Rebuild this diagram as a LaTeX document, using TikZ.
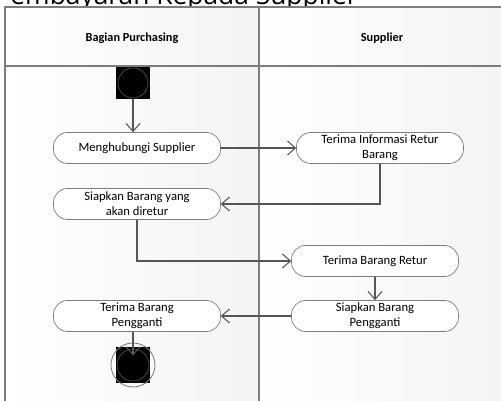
\documentclass[tikz,border=0pt]{standalone}
\usepackage{fontspec}
\setmainfont{Carlito}
\newfontfamily\titlefont{Open Sans}
\usepackage{tikz}
\usetikzlibrary{arrows.meta, positioning, calc}
\definecolor{lanegray}{RGB}{125,125,125}
\definecolor{flowgray}{RGB}{85,85,85}

\begin{document}
\begin{tikzpicture}[x=0.02cm,y=-0.02cm,
    aktivitas/.style={rectangle,rounded corners=8pt,draw=lanegray,fill=white,minimum width=3.34cm,minimum height=0.62cm,align=center,inner sep=1pt,font=\fontsize{7.2}{8.6}\selectfont},
    alur/.style={draw=flowgray,line width=0.6pt,-{Straight Barb[length=4.5pt,width=8pt]}},
    judullajur/.style={font=\bfseries\fontsize{7}{8}\selectfont}]
    \useasboundingbox (0,0) rectangle (501,401);
    \clip (0,0) rectangle (501,401);

    % Judul (terpotong di atas)
    \node[font=\titlefont\fontsize{15}{18}\selectfont,anchor=base east,inner sep=0pt] (judul) at (358,4.5) {Pembayaran Kepada Supplier};

    % Swimlane
    \shade[left color=white,right color=gray!9] (5,7) rectangle (259,410);
    \shade[left color=white,right color=gray!9] (259,7) rectangle (510,410);
    \draw[lanegray,line width=0.6pt] (5,7) rectangle (510,410);
    \draw[lanegray,line width=0.8pt] (5,66) -- (510,66);
    \draw[lanegray,line width=0.6pt] (259,7) -- (259,410);
    \node[judullajur] (lajurpurch) at (132,38) {Bagian Purchasing};
    \node[judullajur] (lajursupp) at (382,38) {Supplier};

    % Awal
    \node[rectangle,fill=black,minimum width=0.7cm,minimum height=0.64cm,inner sep=0pt] (mulai) at (133,83) {};
    \draw[gray!60!black,line width=0.4pt] (mulai) circle (15);

    % Aktivitas
    \node[aktivitas] (mhs) at (137,148) {Menghubungi Supplier};
    \node[aktivitas] (tia) at (380,148) {Terima Informasi Retur\\Barang};
    \node[aktivitas] (sbr) at (137,204) {Siapkan Barang yang\\akan diretur};
    \node[aktivitas] (tbr) at (375,261) {Terima Barang Retur};
    \node[aktivitas] (sbp) at (375,316) {Siapkan Barang\\Pengganti};
    \node[aktivitas] (tbp) at (137,316) {Terima Barang\\Pengganti};

    % Akhir
    \node[rectangle,fill=black,minimum width=0.7cm,minimum height=0.72cm,inner sep=0pt] (selesai) at (133,365) {};
    \draw[gray,line width=0.5pt] (selesai) circle (22);
    \draw[gray!60!black,line width=0.4pt] (selesai) circle (16);

    % Alur
    \draw[alur] (mulai.south) -- (mulai |- mhs.north);
    \draw[alur] (mhs.east) -- (tia.west);
    \draw[alur] (tia.south) |- (sbr.east);
    \draw[alur] (sbr.south) |- (tbr.west);
    \draw[alur] (tbr.south) -- (sbp.north);
    \draw[alur] (sbp.west) -- (tbp.east);
    \draw[alur,shorten >=-5pt] (tbp.south -| selesai) -- (selesai.north);
\end{tikzpicture}
\end{document}
